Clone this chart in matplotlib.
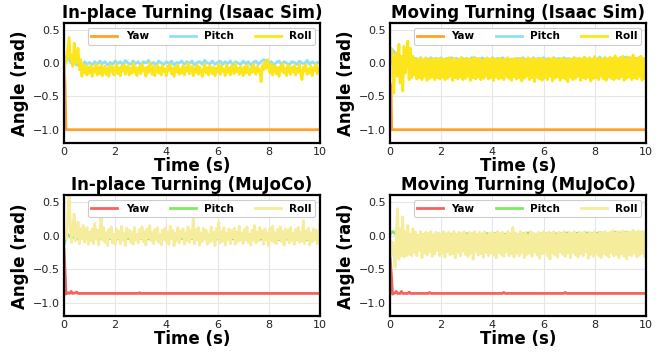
import numpy as np
import matplotlib
matplotlib.use("Agg")
import matplotlib.pyplot as plt

# ---------------- data ----------------
titles = ["In-place Turning (Isaac Sim)", "Moving Turning (Isaac Sim)",
          "In-place Turning (MuJoCo)", "Moving Turning (MuJoCo)"]
series_names = ["Yaw", "Pitch", "Roll"]

# Yaw (step-like): times and values
yaw_t_isaac_inplace = [0.0, 0.04, 0.08, 10.0]
yaw_isaac_inplace = [0.0, -0.30, -1.00, -1.00]
yaw_t_isaac_moving = [0.0, 0.04, 0.07, 10.0]
yaw_isaac_moving = [-0.30, -0.35, -1.00, -1.00]
yaw_t_mujoco_inplace = [0.0, 0.05, 0.08, 0.15, 0.22, 0.28, 0.33, 0.45, 0.5, 0.55, 2.9, 2.95, 3.0, 10.0]
yaw_mujoco_inplace = [-0.20, -0.60, -0.87, -0.85, -0.86, -0.83, -0.86, -0.85, -0.84, -0.86, -0.86, -0.85, -0.86, -0.86]
yaw_t_mujoco_moving = [0.0, 0.06, 0.10, 0.2, 0.25, 0.3, 0.4, 0.45, 0.5, 0.7, 0.75, 0.8, 1.5, 1.55, 1.6,
                       4.4, 4.45, 4.5, 6.8, 6.85, 6.9, 10.0]
yaw_mujoco_moving = [-0.30, -0.60, -0.87, -0.85, -0.83, -0.86, -0.86, -0.83, -0.86, -0.86, -0.84, -0.86,
                     -0.86, -0.845, -0.86, -0.86, -0.845, -0.86, -0.86, -0.845, -0.86, -0.86]

# Pitch, sampled every 0.1 s (101 values)
pitch_isaac_inplace = [
    0.05, 0.10, 0.05, 0.00, 0.02, -0.03, 0.00, -0.05, 0.02, -0.02,
    0.01, -0.03, 0.02, -0.02, 0.03, -0.01, 0.02, -0.03, 0.01, -0.02,
    0.03, -0.01, 0.02, -0.03, 0.04, 0.00, -0.02, 0.03, -0.01, 0.02,
    -0.03, 0.02, 0.00, 0.04, -0.02, 0.01, -0.03, 0.03, 0.00, -0.02,
    0.02, -0.01, 0.03, -0.03, 0.01, 0.00, 0.03, -0.02, 0.02, -0.01,
    0.03, -0.03, 0.01, 0.02, -0.02, 0.04, 0.00, -0.01, 0.03, -0.02,
    0.01, 0.03, -0.02, 0.02, -0.01, 0.03, -0.03, 0.02, 0.00, -0.02,
    0.03, -0.01, 0.02, -0.03, 0.01, 0.03, -0.02, 0.02, 0.05, 0.03,
    -0.01, 0.02, -0.03, 0.01, 0.03, -0.02, 0.02, 0.00, -0.03, 0.02,
    0.01, -0.02, 0.03, 0.00, -0.01, 0.04, -0.02, 0.02, -0.01, 0.01,
    0.00]
pitch_isaac_moving = [
    0.00, 0.20, 0.15, 0.05, 0.10, 0.00, 0.08, 0.02, 0.09, 0.03,
    0.07, 0.04, 0.08, 0.03, 0.07, 0.05, 0.08, 0.04, 0.07, 0.05,
    0.08, 0.03, 0.07, 0.05, 0.08, 0.04, 0.07, 0.03, 0.08, 0.05,
    0.07, 0.04, 0.08, 0.05, 0.07, 0.03, 0.08, 0.05, 0.07, 0.04,
    0.08, 0.05, 0.07, 0.03, 0.08, 0.04, 0.07, 0.05, 0.06, 0.04,
    0.07, 0.05, 0.08, 0.04, 0.07, 0.03, 0.08, 0.05, 0.07, 0.04,
    0.08, 0.05, 0.07, 0.04, 0.08, 0.05, 0.07, 0.03, 0.08, 0.05,
    0.07, 0.04, 0.08, 0.05, 0.07, 0.04, 0.08, 0.05, 0.07, 0.04,
    0.08, 0.05, 0.09, 0.04, 0.08, 0.05, 0.07, 0.04, 0.09, 0.05,
    0.08, 0.04, 0.09, 0.05, 0.08, 0.04, 0.07, 0.05, 0.09, 0.04,
    0.07]
pitch_mujoco_inplace = [
    -0.15, 0.03, 0.00, -0.04, -0.02, -0.05, -0.03, -0.04, -0.05, -0.03,
    -0.04, -0.05, -0.03, -0.04, -0.05, -0.04, -0.03, -0.05, -0.04, -0.05,
    -0.04, -0.05, -0.04, -0.03, -0.05, -0.04, -0.05, -0.04, -0.03, -0.05,
    -0.04, -0.05, -0.04, -0.05, -0.03, -0.04, -0.05, -0.04, -0.05, -0.04,
    -0.05, -0.04, -0.03, -0.05, -0.04, -0.05, -0.04, -0.05, -0.04, -0.05,
    -0.04, -0.05, -0.05, -0.04, -0.05, -0.04, -0.06, -0.05, -0.04, -0.05,
    -0.05, -0.04, -0.05, -0.06, -0.05, -0.04, -0.05, -0.05, -0.06, -0.05,
    -0.04, -0.05, -0.06, -0.05, -0.05, -0.04, -0.06, -0.05, -0.05, -0.06,
    -0.05, -0.06, -0.05, -0.04, -0.06, -0.05, -0.06, -0.05, -0.05, -0.06,
    -0.05, -0.06, -0.05, -0.06, -0.05, -0.06, -0.06, -0.05, -0.06, -0.05,
    -0.06]
pitch_mujoco_moving = [
    0.02, 0.06, 0.03, 0.10, 0.05, 0.08, -0.01, 0.02, -0.02, 0.00,
    -0.02, 0.00, -0.01, 0.01, -0.02, 0.00, 0.01, -0.01, 0.02, 0.00,
    0.01, 0.02, 0.00, 0.02, 0.01, 0.03, 0.01, 0.02, 0.00, 0.02,
    0.03, 0.01, 0.02, 0.03, 0.01, 0.02, 0.00, 0.02, 0.03, 0.01,
    0.02, 0.03, 0.01, 0.02, 0.00, 0.02, 0.03, 0.01, 0.02, 0.03,
    0.01, 0.02, 0.03, 0.02, 0.04, 0.02, 0.03, 0.01, 0.03, 0.02,
    0.03, 0.02, 0.04, 0.02, 0.03, 0.02, 0.04, 0.03, 0.02, 0.04,
    0.03, 0.02, 0.04, 0.03, 0.04, 0.02, 0.03, 0.04, 0.02, 0.03,
    0.04, 0.03, 0.05, 0.03, 0.04, 0.02, 0.04, 0.03, 0.05, 0.03,
    0.04, 0.03, 0.05, 0.04, 0.03, 0.05, 0.04, 0.03, 0.05, 0.04,
    0.04]

# Roll, sampled every 0.05 s (201 values)
roll_isaac_inplace = [
    -0.25, 0.08, 0.02, 0.20, 0.38, 0.05, 0.12, -0.05, 0.30, 0.00, 0.10, 0.22, -0.10, 0.05, -0.20, -0.02, -0.15, -0.05, -0.18, -0.06,
    -0.15, -0.04, -0.20, -0.08, -0.14, -0.02, -0.18, -0.07, -0.16, -0.03, -0.19, -0.10, -0.05, -0.17, -0.08, -0.20, -0.04, -0.13, -0.06, -0.18,
    -0.09, -0.02, -0.16, -0.07, -0.19, -0.05, -0.12, -0.03, -0.17, -0.10, -0.04, -0.18, -0.08, -0.15, -0.01, -0.14, -0.06, -0.19, -0.09, -0.05,
    -0.16, -0.02, -0.12, -0.08, -0.20, -0.06, -0.14, 0.00, -0.11, -0.17, -0.05, -0.19, -0.09, -0.03, -0.15, -0.07, -0.18, -0.04, -0.13, -0.09,
    -0.19, -0.05, -0.11, -0.02, -0.16, -0.08, -0.20, -0.06, -0.13, -0.03, -0.17, -0.09, -0.15, -0.04, -0.18, -0.07, -0.12, -0.01, -0.16, -0.10,
    -0.05, -0.19, -0.08, -0.14, -0.03, -0.17, -0.06, -0.12, -0.20, -0.09, -0.02, -0.15, -0.07, -0.18, -0.04, -0.11, -0.16, -0.06, -0.19, -0.08,
    -0.13, -0.02, -0.17, -0.05, -0.12, -0.09, -0.19, -0.03, -0.14, -0.07, -0.18, -0.04, -0.11, -0.16, -0.01, -0.13, -0.08, -0.17, -0.05, -0.10,
    -0.19, -0.06, -0.15, -0.03, -0.12, -0.18, -0.07, -0.14, -0.02, -0.11, -0.17, -0.05, -0.13, -0.09, -0.28, -0.04, -0.10, 0.02, -0.08, 0.05,
    -0.06, -0.15, -0.02, -0.18, -0.09, -0.04, -0.16, -0.07, -0.20, -0.05, -0.12, -0.01, -0.15, -0.08, -0.19, -0.03, -0.11, -0.17, -0.06, -0.13,
    -0.04, -0.18, -0.08, -0.14, -0.02, -0.16, -0.25, -0.06, -0.12, -0.03, -0.17, -0.09, -0.15, -0.05, -0.19, -0.07, -0.11, -0.02, -0.16, -0.08,
    -0.12]
roll_isaac_moving = [
    0.00, 0.22, 0.10, -0.45, 0.05, 0.15, -0.20, 0.28, -0.30, 0.10, -0.42, 0.25, -0.15, 0.05, 0.33, -0.25, 0.22, -0.22, 0.10, -0.18,
    0.05, -0.24, 0.06, -0.22, 0.07, -0.25, 0.04, -0.20, 0.08, -0.26, 0.05, -0.23, 0.06, -0.21, 0.07, -0.25, 0.05, -0.22, 0.06, -0.24,
    0.07, -0.21, 0.05, -0.25, 0.06, -0.23, 0.08, -0.20, 0.05, -0.26, 0.07, -0.22, 0.04, -0.24, 0.06, -0.21, 0.08, -0.25, 0.05, -0.23,
    0.07, -0.20, 0.06, -0.26, 0.05, -0.22, 0.09, -0.24, 0.06, -0.21, 0.07, -0.25, 0.04, -0.23, 0.06, -0.20, 0.08, -0.24, 0.05, -0.22,
    0.07, -0.26, 0.06, -0.21, 0.05, -0.24, 0.07, -0.22, 0.04, -0.25, 0.06, -0.20, 0.08, -0.23, 0.05, -0.26, 0.06, -0.21, 0.07, -0.24,
    0.05, -0.22, 0.07, -0.27, 0.06, -0.23, 0.04, -0.20, 0.08, -0.25, 0.05, -0.22, 0.07, -0.28, 0.06, -0.21, 0.05, -0.24, 0.07, -0.26,
    0.06, -0.22, 0.04, -0.25, 0.07, -0.20, 0.05, -0.27, 0.08, -0.23, 0.06, -0.21, 0.05, -0.26, 0.07, -0.22, 0.06, -0.24, 0.04, -0.28,
    0.07, -0.21, 0.05, -0.25, 0.08, -0.23, 0.06, -0.20, 0.07, -0.26, 0.05, -0.22, 0.09, -0.24, 0.06, -0.21, 0.08, -0.27, 0.05, -0.23,
    0.10, -0.22, 0.06, -0.25, 0.07, -0.20, 0.05, -0.24, 0.08, -0.26, 0.06, -0.21, 0.09, -0.23, 0.07, -0.25, 0.11, -0.22, 0.06, -0.24,
    0.08, -0.20, 0.10, -0.26, 0.06, -0.23, 0.09, -0.21, 0.07, -0.25, 0.12, -0.22, 0.06, -0.24, 0.08, -0.20, 0.10, -0.26, 0.07, -0.22,
    -0.25]
roll_mujoco_inplace = [
    0.00, 0.05, -0.05, 0.30, 0.70, 0.10, -0.10, 0.15, 0.32, -0.08, 0.05, 0.20, -0.12, 0.10, -0.05, 0.15, -0.10, 0.02, 0.12, -0.13,
    0.05, -0.08, 0.10, -0.12, 0.18, -0.05, 0.08, -0.14, 0.03, 0.28, -0.06, 0.12, -0.10, 0.04, -0.15, 0.09, -0.03, 0.13, -0.11, 0.02,
    -0.13, 0.10, -0.04, 0.07, -0.12, 0.14, -0.07, 0.03, -0.15, 0.11, -0.02, 0.08, -0.10, 0.05, -0.13, 0.12, -0.06, 0.02, -0.11, 0.09,
    -0.04, 0.13, -0.09, 0.06, -0.14, 0.10, -0.03, 0.15, -0.08, 0.04, -0.12, 0.09, -0.05, 0.12, -0.10, 0.02, -0.14, 0.08, -0.06, 0.11,
    -0.09, 0.05, -0.13, 0.14, -0.04, 0.08, -0.15, 0.03, -0.07, 0.12, -0.11, 0.06, -0.02, 0.10, -0.13, 0.04, -0.08, 0.13, -0.10, 0.07,
    -0.03, 0.25, -0.12, 0.09, -0.06, 0.12, -0.14, 0.04, -0.09, 0.11, -0.05, 0.08, -0.13, 0.02, -0.10, 0.13, -0.07, 0.05, -0.15, 0.10,
    -0.04, 0.20, -0.11, 0.06, -0.08, 0.12, -0.14, 0.03, -0.06, 0.10, -0.12, 0.07, -0.03, 0.11, -0.13, 0.05, -0.09, 0.14, -0.07, 0.04,
    -0.12, 0.09, -0.05, 0.13, -0.10, 0.02, -0.14, 0.08, -0.06, 0.15, -0.11, 0.05, -0.08, 0.12, -0.03, 0.07, -0.13, 0.10, -0.06, 0.03,
    -0.15, 0.11, -0.07, 0.14, -0.10, 0.04, -0.12, 0.09, -0.05, 0.13, -0.09, 0.06, -0.14, 0.10, -0.04, 0.08, -0.11, 0.12, -0.07, 0.03,
    -0.13, 0.09, -0.06, 0.12, -0.10, 0.05, -0.08, 0.22, -0.12, 0.07, -0.05, 0.11, -0.14, 0.04, -0.09, 0.10, -0.06, 0.08, -0.12, -0.08,
    0.20]
roll_mujoco_moving = [
    -0.05, -0.30, -0.10, -0.20, -0.47, 0.00, 0.40, -0.35, 0.10, -0.30, 0.28, -0.32, 0.05, -0.30, 0.15, -0.28, 0.02, -0.30, 0.10, -0.25,
    0.05, -0.30, 0.00, -0.22, 0.06, -0.33, 0.02, -0.26, 0.05, -0.29, 0.03, -0.24, 0.06, -0.31, 0.01, -0.27, 0.05, -0.22, 0.04, -0.30,
    0.02, -0.26, 0.06, -0.32, 0.03, -0.24, 0.05, -0.29, 0.01, -0.27, 0.06, -0.33, 0.02, -0.25, 0.05, -0.30, 0.03, -0.23, 0.06, -0.28,
    0.01, -0.31, 0.05, -0.26, 0.03, -0.35, 0.06, -0.24, 0.02, -0.29, 0.05, -0.27, 0.03, -0.32, 0.06, -0.25, 0.01, -0.30, 0.04, -0.26,
    0.05, -0.29, 0.02, -0.33, 0.06, -0.25, 0.03, -0.28, 0.05, -0.31, 0.01, -0.24, 0.06, -0.30, 0.03, -0.27, 0.12, -0.32, 0.04, -0.26,
    0.02, -0.30, 0.06, -0.25, 0.03, -0.33, 0.05, -0.28, 0.01, -0.26, 0.06, -0.31, 0.04, -0.24, 0.02, -0.29, 0.05, -0.34, 0.03, -0.27,
    0.06, -0.25, 0.02, -0.30, 0.05, -0.35, 0.03, -0.26, 0.06, -0.29, 0.01, -0.32, 0.05, -0.24, 0.03, -0.28, 0.06, -0.31, 0.02, -0.26,
    0.05, -0.33, 0.03, -0.25, 0.06, -0.29, 0.02, -0.32, 0.05, -0.27, 0.04, -0.30, 0.06, -0.24, 0.02, -0.34, 0.05, -0.28, 0.03, -0.31,
    0.06, -0.26, 0.02, -0.30, 0.05, -0.33, 0.04, -0.27, 0.06, -0.29, 0.03, -0.32, 0.05, -0.25, 0.07, -0.30, 0.04, -0.28, 0.06, -0.33,
    0.03, -0.27, 0.07, -0.31, 0.04, -0.35, 0.06, -0.28, 0.05, -0.30, 0.08, -0.26, 0.04, -0.32, 0.07, -0.29, 0.05, -0.27, 0.06, -0.31,
    0.02]

t_pitch = np.linspace(0, 10, len(pitch_isaac_inplace))
t_roll = np.linspace(0, 10, len(roll_isaac_inplace))

panels = [
    (yaw_t_isaac_inplace, yaw_isaac_inplace, pitch_isaac_inplace, roll_isaac_inplace),
    (yaw_t_isaac_moving, yaw_isaac_moving, pitch_isaac_moving, roll_isaac_moving),
    (yaw_t_mujoco_inplace, yaw_mujoco_inplace, pitch_mujoco_inplace, roll_mujoco_inplace),
    (yaw_t_mujoco_moving, yaw_mujoco_moving, pitch_mujoco_moving, roll_mujoco_moving),
]
isaac_colors = ["#FFA229", "#90E0F2", "#FCE51A"]
mujoco_colors = ["#F4645C", "#7EEA63", "#F5EC9C"]

# ---------------- figure ----------------
fig = plt.figure(figsize=(6.70, 3.54), dpi=100)
positions = [
    [0.0955, 0.596, 0.382, 0.339],
    [0.582, 0.596, 0.382, 0.339],
    [0.0955, 0.1065, 0.382, 0.342],
    [0.582, 0.1065, 0.382, 0.342],
]

for i, (pos, title, data) in enumerate(zip(positions, titles, panels)):
    ax = fig.add_axes(pos)
    cols = isaac_colors if i < 2 else mujoco_colors
    yt, yv, pv, rv = data
    ax.plot(yt, yv, color=cols[0], lw=2.0, label=series_names[0])
    ax.plot(t_pitch, pv, color=cols[1], lw=2.0, label=series_names[1])
    ax.plot(t_roll, rv, color=cols[2], lw=2.0, label=series_names[2])
    ax.set_xlim(0, 10)
    ax.set_ylim(-1.2, 0.6)
    ax.set_xticks([0, 2, 4, 6, 8, 10])
    ax.set_yticks([0.5, 0.0, -0.5, -1.0])
    ax.grid(True, color="#e6e6e6", lw=0.8)
    ax.set_axisbelow(True)
    for s in ax.spines.values():
        s.set_color("black")
        s.set_linewidth(1.6)
    ax.tick_params(length=0, pad=3, labelsize=8, colors="#222222")
    ax.set_title(title, fontsize=12, fontweight="bold", pad=3.5)
    ax.set_xlabel("Time (s)", fontsize=12, fontweight="bold", labelpad=0)
    ax.set_ylabel("Angle (rad)", fontsize=12, fontweight="bold", labelpad=3)
    leg = ax.legend(loc="upper right", ncol=3, prop={"weight": "bold", "size": 7.5},
                    frameon=True, fancybox=True, edgecolor="#cccccc", framealpha=1.0,
                    borderaxespad=0.45, borderpad=0.35, columnspacing=2.0,
                    handlelength=2.5, handletextpad=0.8)
    leg.get_frame().set_linewidth(0.8)

fig.savefig("out.png", dpi=100)
